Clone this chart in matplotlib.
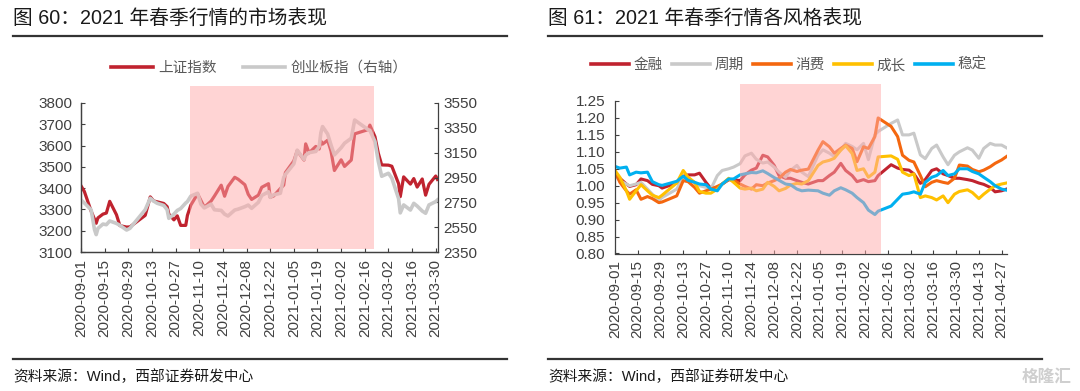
import matplotlib
matplotlib.use("Agg")
import matplotlib.pyplot as plt
from matplotlib.lines import Line2D
from matplotlib.patches import Rectangle
import matplotlib.dates as mdates
import pandas as pd

# ---- data: left panel (上证指数 / 创业板指) ----
left_dates = ['2020-09-01', '2020-09-03', '2020-09-07', '2020-09-09', '2020-09-10', '2020-09-11',
              '2020-09-14', '2020-09-16', '2020-09-18', '2020-09-22', '2020-09-24', '2020-09-28',
              '2020-09-30', '2020-10-09', '2020-10-12', '2020-10-14', '2020-10-16', '2020-10-20',
              '2020-10-22', '2020-10-23', '2020-10-26', '2020-10-28', '2020-10-30', '2020-11-02',
              '2020-11-03', '2020-11-05', '2020-11-09', '2020-11-11', '2020-11-13', '2020-11-17',
              '2020-11-19', '2020-11-23', '2020-11-25', '2020-11-27', '2020-12-01', '2020-12-03',
              '2020-12-07', '2020-12-09', '2020-12-11', '2020-12-15', '2020-12-17', '2020-12-21',
              '2020-12-22', '2020-12-24', '2020-12-28', '2020-12-30', '2020-12-31', '2021-01-05',
              '2021-01-07', '2021-01-11', '2021-01-12', '2021-01-14', '2021-01-18', '2021-01-20',
              '2021-01-21', '2021-01-22', '2021-01-25', '2021-01-27', '2021-01-29', '2021-02-02',
              '2021-02-04', '2021-02-08', '2021-02-10', '2021-02-18', '2021-02-19', '2021-02-22',
              '2021-02-24', '2021-02-26', '2021-03-02', '2021-03-04', '2021-03-08', '2021-03-09',
              '2021-03-11', '2021-03-15', '2021-03-17', '2021-03-19', '2021-03-22', '2021-03-24',
              '2021-03-26', '2021-03-30', '2021-03-31']
sse = [3411, 3384, 3292, 3254, 3235, 3260, 3278, 3283, 3338, 3275, 3224, 3217,
       3218, 3272, 3359, 3340, 3336, 3328, 3313, 3278, 3251, 3270, 3225, 3225,
       3272, 3320, 3373, 3342, 3310, 3339, 3363, 3414, 3362, 3408, 3451, 3442,
       3416, 3371, 3347, 3367, 3404, 3421, 3357, 3363, 3398, 3414, 3473, 3528,
       3576, 3532, 3608, 3566, 3596, 3584, 3621, 3607, 3625, 3574, 3483, 3533,
       3502, 3532, 3655, 3675, 3696, 3642, 3564, 3509, 3508, 3503, 3421, 3360,
       3453, 3419, 3445, 3405, 3443, 3367, 3418, 3457, 3441]
gem = [2769, 2745, 2690, 2530, 2490, 2540, 2575, 2570, 2600, 2580, 2565, 2527,
       2541, 2690, 2783, 2760, 2743, 2725, 2690, 2621, 2655, 2685, 2700, 2745,
       2756, 2800, 2823, 2735, 2705, 2735, 2690, 2685, 2655, 2640, 2688, 2695,
       2715, 2728, 2702, 2750, 2805, 2835, 2790, 2810, 2823, 2950, 2975, 3060,
       3170, 3095, 3130, 3150, 3160, 3200, 3310, 3360, 3300, 3212, 3132, 3190,
       3226, 3266, 3413, 3335, 3330, 3240, 3080, 2960, 2984, 2945, 2780, 2665,
       2729, 2688, 2742, 2720, 2680, 2662, 2729, 2756, 2769]
left_labels = ['上证指数', '创业板指（右轴）']
left_span = ('2020-11-04 14:00', '2021-02-21 12:00')

# ---- data: right panel (风格指数) ----
right_dates = ['2020-09-01', '2020-09-04', '2020-09-08', '2020-09-10', '2020-09-14', '2020-09-17',
               '2020-09-21', '2020-09-24', '2020-09-28', '2020-09-30', '2020-10-09', '2020-10-13',
               '2020-10-16', '2020-10-20', '2020-10-23', '2020-10-27', '2020-10-30', '2020-11-03',
               '2020-11-06', '2020-11-10', '2020-11-13', '2020-11-17', '2020-11-20', '2020-11-24',
               '2020-11-27', '2020-12-01', '2020-12-04', '2020-12-08', '2020-12-11', '2020-12-15',
               '2020-12-18', '2020-12-22', '2020-12-25', '2020-12-29', '2021-01-04', '2021-01-07',
               '2021-01-11', '2021-01-14', '2021-01-18', '2021-01-21', '2021-01-25', '2021-01-28',
               '2021-02-01', '2021-02-04', '2021-02-08', '2021-02-10', '2021-02-18', '2021-02-22',
               '2021-02-25', '2021-03-01', '2021-03-04', '2021-03-08', '2021-03-11', '2021-03-15',
               '2021-03-18', '2021-03-22', '2021-03-25', '2021-03-29', '2021-04-01', '2021-04-06',
               '2021-04-09', '2021-04-13', '2021-04-16', '2021-04-20', '2021-04-23', '2021-04-27',
               '2021-04-30']
finance = [1.037, 1.022, 1.005, 0.998, 1.003, 1.020, 1.015, 1.004, 1.000, 0.993, 1.008, 1.028,
           1.032, 1.032, 1.037, 1.010, 0.992, 0.993, 1.005, 1.018, 1.018, 1.015, 1.032, 1.046,
           1.052, 1.090, 1.085, 1.060, 1.030, 1.022, 1.022, 1.015, 1.010, 1.005, 1.015, 1.015,
           1.030, 1.040, 1.066, 1.045, 1.030, 1.012, 1.018, 1.012, 1.015, 1.030, 1.062, 1.052,
           1.048, 1.046, 1.035, 1.007, 1.018, 1.045, 1.050, 1.035, 1.030, 1.022, 1.022, 1.018,
           1.015, 1.008, 1.004, 0.995, 0.982, 0.985, 0.990]
cyclical = [1.030, 1.015, 1.005, 1.000, 1.005, 1.010, 0.990, 0.975, 0.956, 0.965, 0.990, 1.025,
            1.020, 1.010, 1.000, 0.995, 0.990, 1.030, 1.045, 1.050, 1.055, 1.065, 1.088, 1.096,
            1.078, 1.067, 1.070, 1.055, 1.040, 1.025, 1.045, 1.060, 1.040, 1.027, 1.090, 1.106,
            1.096, 1.086, 1.105, 1.125, 1.116, 1.106, 1.125, 1.077, 1.150, 1.160, 1.184, 1.194,
            1.150, 1.150, 1.155, 1.091, 1.080, 1.110, 1.120, 1.085, 1.062, 1.090, 1.100, 1.112,
            1.105, 1.081, 1.110, 1.125, 1.120, 1.120, 1.112]
consumer = [1.042, 1.010, 0.985, 0.975, 0.988, 0.960, 0.968, 0.962, 0.950, 0.952, 0.970, 1.015,
            1.012, 0.995, 0.978, 0.985, 0.990, 0.998, 1.005, 1.018, 1.016, 1.005, 0.998, 0.990,
            1.003, 1.000, 1.008, 1.015, 1.022, 1.040, 1.048, 1.042, 1.046, 1.049, 1.105, 1.130,
            1.115, 1.096, 1.110, 1.120, 1.110, 1.071, 1.115, 1.110, 1.145, 1.200, 1.175, 1.145,
            1.090, 1.075, 1.070, 1.030, 0.997, 1.010, 1.015, 1.010, 1.007, 1.022, 1.061, 1.058,
            1.048, 1.041, 1.046, 1.056, 1.066, 1.076, 1.086]
growth = [1.045, 1.025, 0.985, 0.960, 0.985, 1.003, 0.985, 0.972, 0.965, 0.972, 1.008, 1.045,
          1.025, 1.010, 0.983, 0.978, 0.978, 0.990, 1.005, 1.022, 1.010, 0.993, 0.990, 0.993,
          0.985, 0.990, 1.010, 0.998, 0.985, 0.992, 1.002, 1.007, 1.005, 1.015, 1.060, 1.070,
          1.075, 1.081, 1.105, 1.118, 1.095, 1.045, 1.050, 1.025, 1.040, 1.085, 1.088, 1.078,
          1.040, 1.030, 1.035, 0.965, 0.970, 0.965, 0.958, 0.970, 0.950, 0.975, 0.983, 0.988,
          0.980, 0.962, 0.975, 0.990, 1.000, 1.005, 1.008]
stable = [1.057, 1.052, 1.055, 1.032, 1.040, 1.038, 1.040, 1.012, 1.003, 1.001, 1.013, 1.028,
          1.016, 1.010, 1.005, 1.003, 0.990, 0.985, 1.005, 1.020, 1.020, 1.032, 1.035, 1.039,
          1.038, 1.044, 1.036, 1.024, 1.016, 1.005, 1.003, 0.990, 0.985, 0.987, 0.985, 0.978,
          0.972, 0.985, 0.994, 0.988, 0.978, 0.965, 0.950, 0.928, 0.915, 0.925, 0.940, 0.960,
          0.975, 0.978, 0.982, 0.975, 1.010, 1.025, 1.030, 1.045, 1.030, 1.035, 1.050, 1.050,
          1.042, 1.035, 1.025, 1.012, 1.000, 0.990, 0.987]
right_labels = ['金融', '周期', '消费', '成长', '稳定']
right_colors = ['#C0232F', '#C9C9C9', '#F4670F', '#FFC000', '#00B0F0']
right_span = ('2020-11-17', '2021-02-11 12:00')

plt.rcParams['font.family'] = ['Liberation Sans', 'Noto Sans CJK SC']

W, H = 1080, 391
fig = plt.figure(figsize=(10.8, 3.91), dpi=100)

def fx(px):
    return px / W

def fy(py):
    return 1 - py / H

def style_axis(ax, ypad):
    ax.tick_params(direction='in', length=3, width=0.8, color='#404040',
                   labelcolor='#404040')
    ax.tick_params(axis='y', pad=ypad, labelsize=11)
    ax.tick_params(axis='x', pad=5, labelsize=11)
    for s in ax.spines.values():
        s.set_color('#404040')
        s.set_linewidth(0.9)
    ax.spines['top'].set_visible(False)

# ---- left panel ----
ld = pd.to_datetime(left_dates)
ax1 = fig.add_axes([fx(81), fy(252), fx(357), 149 / H])
ax1b = ax1.twinx()
ax1.plot(ld, sse, color='#C0232F', lw=2.3, solid_joinstyle='round')
ax1b.plot(ld, gem, color='#C9C9C9', lw=2.6, solid_joinstyle='round')
ax1.set_ylim(3100, 3800)
ax1.set_yticks(range(3100, 3801, 100))
ax1b.set_ylim(2350, 3550)
ax1b.set_yticks(range(2350, 3551, 200))
lt = pd.date_range('2020-09-01', '2021-03-30', freq='14D')
ax1.set_xlim(pd.Timestamp('2020-09-01'), pd.Timestamp('2021-03-31 08:00'))
ax1.set_xticks(lt)
ax1.set_xticklabels([t.strftime('%Y-%m-%d') for t in lt], rotation=90)
style_axis(ax1, 6)
style_axis(ax1b, 4)
ax1.spines['right'].set_visible(False)
x0, x1 = [mdates.date2num(pd.Timestamp(t)) for t in left_span]
ax1b.add_patch(Rectangle((x0, 0.02), x1 - x0, 1.094, transform=ax1b.get_xaxis_transform(),
                         facecolor='#FFAAAA', alpha=0.5, lw=0, clip_on=False, zorder=5))

fig.legend([Line2D([], [], color='#C0232F', lw=2.6), Line2D([], [], color='#C9C9C9', lw=2.6)],
           left_labels, loc='center', bbox_to_anchor=(fx(259), fy(68)), ncol=2, frameon=False,
           fontsize=10.5, handlelength=2.9, handletextpad=0.35, columnspacing=1.8,
           labelcolor='#595959')

# ---- right panel ----
rd = pd.to_datetime(right_dates)
ax2 = fig.add_axes([fx(615), fy(253.5), fx(392), 152.5 / H])
for vals, lab, col in zip([finance, cyclical, consumer, growth, stable], right_labels, right_colors):
    ax2.plot(rd, vals, color=col, lw=2.2, label=lab, solid_joinstyle='round')
ax2.set_ylim(0.80, 1.25)
ax2.set_yticks([0.80 + 0.05 * i for i in range(10)])
ax2.set_yticklabels(['%.2f' % (0.80 + 0.05 * i) for i in range(10)])
rt = pd.date_range('2020-09-01', '2021-04-27', freq='14D')
ax2.set_xlim(pd.Timestamp('2020-09-01'), pd.Timestamp('2021-04-30 08:00'))
ax2.set_xticks(rt)
ax2.set_xticklabels([t.strftime('%Y-%m-%d') for t in rt], rotation=90)
style_axis(ax2, 7)
ax2.spines['right'].set_visible(False)
x0, x1 = [mdates.date2num(pd.Timestamp(t)) for t in right_span]
ax2.add_patch(Rectangle((x0, 0), x1 - x0, 1.111, transform=ax2.get_xaxis_transform(),
                        facecolor='#FFAAAA', alpha=0.5, lw=0, clip_on=False, zorder=5))

fig.legend([Line2D([], [], color=c, lw=2.6) for c in right_colors], right_labels,
           loc='center', bbox_to_anchor=(fx(789), fy(65)), ncol=5, frameon=False,
           fontsize=10.5, handlelength=2.6, handletextpad=0.35, columnspacing=0.6,
           labelcolor='#595959')

# ---- titles, rules, source ----
for x, xr, title in [(13, 507, '图 60：2021 年春季行情的市场表现'),
                     (548, 1042, '图 61：2021 年春季行情各风格表现')]:
    fig.text(fx(x), fy(18), title, fontsize=14.2, ha='left', va='center', color='#1a1a1a')
    fig.add_artist(Line2D([fx(x), fx(xr)], [fy(35.5)] * 2, color='#333333', lw=1.6))
    fig.add_artist(Line2D([fx(x), fx(xr)], [fy(359)] * 2, color='#333333', lw=1.6))
    fig.text(fx(x), fy(377), '资料来源：Wind，西部证券研发中心', fontsize=10.6,
             ha='left', va='center', color='#1a1a1a')

fig.text(fx(1072), fy(377), '格隆汇', fontsize=12, ha='right', va='center',
         color='#cfcfcf', weight='bold')

fig.savefig('out.png', dpi=100)
